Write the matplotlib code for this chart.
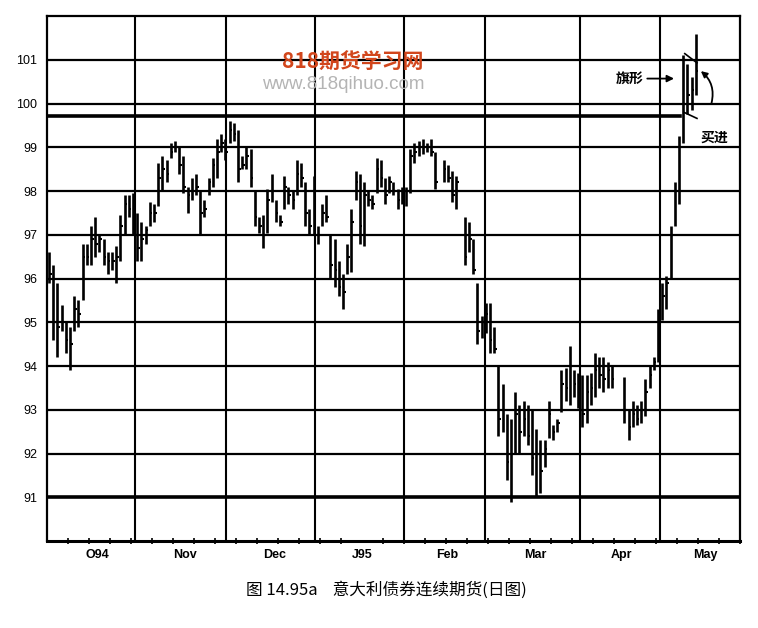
import numpy as np
import matplotlib.pyplot as plt

# daily high / low / close, one entry per trading day (nan = no bar)
nan = np.nan
highs = [96.6, 96.3, 95.9, 95.4, 95.0, 94.9, 95.6, 95.5, 96.8, 96.8,
         97.2, 97.4, 97.0, 96.9, 96.6, 96.6, 96.75, 97.45, 97.9, 97.9,
         97.95, 97.5, 97.3, 97.2, 97.75, 97.7, 98.65, 98.8, 98.7, 99.1,
         99.15, 99.0, 98.8, 98.1, 98.3, 98.4, 98.0, 97.8, 98.3, 98.75,
         99.2, 99.3, 99.2, 99.6, 99.55, 99.4, 98.8, 99.0, 98.95, 98.0,
         97.4, 97.45, 98.05, 98.4, 97.8, 97.45, 98.35, 98.1, 98.0, 98.7,
         98.65, 98.2, 97.6, 98.35, 97.2, 97.7, 97.9, 97.0, 96.9, 96.4,
         96.1, 96.8, 97.6, 98.45, 98.4, 98.2, 98.0, 97.9, 98.75, 98.7,
         98.3, 98.35, 98.2, 98.05, 98.1, 98.1, 98.95, 99.1, 99.15, 99.2,
         99.1, 99.2, 98.9, nan, 98.7, 98.6, 98.45, 98.35, nan, 97.4,
         97.3, 96.9, 95.9, 95.15, 95.45, 95.45, 94.9, 94.0, 93.6, 92.9,
         92.8, 93.4, 93.1, 93.2, 93.1, 93.0, 92.55, 92.3, 92.3, 93.2,
         92.65, 92.8, 93.9, 93.95, 94.45, 93.9, 93.85, 93.8, 93.8, 93.85,
         94.3, 94.2, 94.2, 94.1, 94.0, nan, nan, 93.75, 93.0, 93.2,
         93.1, 93.2, 93.7, 94.0, 94.2, 95.3, 95.9, 96.05, 97.2, 98.2,
         99.25, 101.1, 100.9, 100.6, 101.6]
lows = [95.9, 94.6, 94.2, 94.8, 94.3, 93.9, 94.8, 94.9, 95.5, 96.3,
        96.3, 96.5, 96.6, 96.3, 96.1, 96.2, 95.9, 96.4, 97.0, 97.4,
        97.0, 96.4, 96.4, 96.8, 97.2, 97.3, 97.65, 98.0, 98.2, 98.75,
        98.9, 98.4, 97.95, 97.5, 97.8, 97.9, 97.0, 97.4, 97.9, 98.1,
        98.3, 98.9, 98.7, 99.1, 99.15, 98.2, 98.5, 98.5, 98.1, 97.2,
        97.05, 96.7, 97.05, 97.75, 97.3, 97.2, 97.6, 97.7, 97.6, 97.9,
        98.1, 97.2, 97.0, 97.0, 96.8, 97.2, 97.3, 96.0, 95.8, 95.6,
        95.3, 96.1, 96.15, 97.8, 96.8, 96.75, 97.65, 97.6, 97.95, 98.1,
        97.7, 97.95, 97.9, 97.6, 97.7, 97.65, 97.95, 98.65, 98.8, 98.85,
        98.9, 98.8, 98.05, nan, 98.2, 98.2, 97.75, 97.6, nan, 96.3,
        96.6, 96.1, 94.5, 94.65, 94.75, 94.3, 94.3, 92.4, 92.5, 91.4,
        90.9, 92.0, 92.0, 92.4, 92.2, 91.5, 91.0, 91.1, 91.7, 92.35,
        92.3, 92.5, 92.95, 93.2, 93.1, 93.3, 93.05, 92.6, 92.7, 93.1,
        93.3, 93.5, 93.4, 93.5, 93.5, nan, nan, 92.7, 92.3, 92.6,
        92.65, 92.7, 92.85, 93.5, 93.9, 94.1, 95.05, 95.3, 96.0, 97.2,
        97.7, 99.1, 99.75, 99.85, 100.2]
closes = [96.1, 95.0, 94.9, 95.0, 94.6, 94.5, 95.3, 95.2, 96.5, 96.5,
          96.9, 96.8, 96.9, 96.5, 96.4, 96.4, 96.5, 97.2, 97.7, 97.6,
          97.3, 96.7, 96.9, 97.1, 97.5, 97.5, 98.3, 98.5, 98.4, 98.9,
          99.0, 98.6, 98.1, 97.9, 98.0, 98.1, 97.5, 97.6, 98.2, 98.6,
          98.9, 99.1, 98.9, 99.4, 99.3, 98.5, 98.6, 98.8, 98.3, 97.4,
          97.2, 97.0, 97.8, 98.0, 97.5, 97.3, 98.1, 97.9, 97.8, 98.4,
          98.3, 97.5, 97.2, 97.3, 97.0, 97.5, 97.4, 96.3, 96.2, 95.8,
          95.7, 96.5, 97.3, 98.2, 97.2, 97.9, 97.8, 97.7, 98.5, 98.3,
          97.9, 98.2, 98.0, 97.8, 97.9, 98.0, 98.8, 98.9, 99.0, 99.0,
          99.0, 98.9, 98.2, nan, 98.5, 98.3, 97.9, 98.2, nan, 96.5,
          96.9, 96.2, 94.8, 95.0, 95.2, 94.6, 94.4, 92.8, 93.0, 91.8,
          92.0, 92.9, 92.5, 92.8, 92.4, 91.9, 92.0, 91.6, 92.1, 92.9,
          92.5, 92.7, 93.6, 93.5, 94.0, 93.6, 93.3, 92.9, 93.4, 93.5,
          93.9, 93.8, 93.7, 93.9, 93.7, nan, nan, 93.0, 92.6, 92.9,
          92.8, 93.0, 93.4, 93.8, 94.1, 95.0, 95.6, 95.9, 97.0, 98.0,
          99.0, 101.0, 100.2, 100.3, 100.75]

month_bounds = [20.5, 42.1, 63.3, 84.5, 103.8, 126.4, 145.5]
month_labels = ['O94', 'Nov', 'Dec', 'J95', 'Feb', 'Mar', 'Apr', 'May']
month_label_pos = [11.4, 32.4, 53.8, 74.5, 94.7, 115.7, 136.4, 156.4]
price_ticks = list(range(91, 102))
resistance = 99.72
flag_x = [151.4, 154.3]
flag_top = [101.14, 100.93]
flag_bottom = [99.79, 99.66]

idx = np.arange(len(highs))

fig = plt.figure(figsize=(7.58, 6.28), dpi=100)
ax = fig.add_axes([0.062, 0.1385, 0.914, 0.836])

# grid
for p in price_ticks:
    ax.axhline(p, color='k', lw=2.6 if p == 91 else 1.6, zorder=1)
for m in month_bounds:
    ax.axvline(m, color='k', lw=1.5, zorder=1)
ax.plot([-0.5, 150.2], [resistance, resistance], color='k', lw=2.6, zorder=1)

# price bars
ax.vlines(idx, lows, highs, color='k', lw=1.9, zorder=3)
ax.hlines(closes, idx, idx + 0.6, color='k', lw=1.5, zorder=3)

# flag
ax.plot(flag_x, flag_top, color='k', lw=1.2)
ax.plot(flag_x, flag_bottom, color='k', lw=1.2)
ax.annotate('', xy=(149.5, 100.57), xytext=(141.8, 100.57),
            arrowprops=dict(arrowstyle='-|>', color='k', lw=1.3, mutation_scale=10))
ax.text(141.5, 100.57, '旗形', ha='right', va='center', fontsize=10,
        fontweight='bold', family=['Noto Sans CJK SC', 'DejaVu Sans'])
ax.annotate('', xy=(154.7, 100.78), xytext=(157.6, 99.95),
            arrowprops=dict(arrowstyle='-|>', color='k', lw=1.3, mutation_scale=9,
                            connectionstyle='arc3,rad=0.35'))
ax.text(158.5, 99.22, '买进', ha='center', va='center', fontsize=10,
        fontweight='bold', family=['Noto Sans CJK SC', 'DejaVu Sans'])

ax.set_xlim(-0.5, 164.5)
ax.set_ylim(90, 102)
ax.set_yticks(price_ticks)
ax.set_yticklabels([str(p) for p in price_ticks], family='Liberation Sans', fontsize=9)
ax.tick_params(axis='y', length=0, pad=7)
ax.set_xticks(month_label_pos)
ax.set_xticklabels(month_labels, family='Liberation Sans', fontsize=9, fontweight='bold')
ax.set_xticks(np.arange(4.5, 165, 5), minor=True)
ax.tick_params(axis='x', which='major', length=0, pad=6)
ax.tick_params(axis='x', which='minor', length=5, width=1.2, direction='inout')
for s in ax.spines.values():
    s.set_linewidth(1.6)
ax.spines['bottom'].set_linewidth(2.2)

# watermark
fig.text(0.372, 0.892, '818期货学习网', color='#d2461c', fontsize=15, fontweight='bold',
         family=['Noto Sans CJK SC', 'DejaVu Sans'])
fig.text(0.346, 0.858, 'www.818qihuo.com', color='#b4b4b4', fontsize=13.5,
         family='Liberation Sans')

fig.text(0.51, 0.06, '图 14.95a    意大利债券连续期货(日图)', ha='center', va='center',
         fontsize=12, family=['Noto Sans CJK SC', 'DejaVu Sans'])

plt.savefig('out.png')
